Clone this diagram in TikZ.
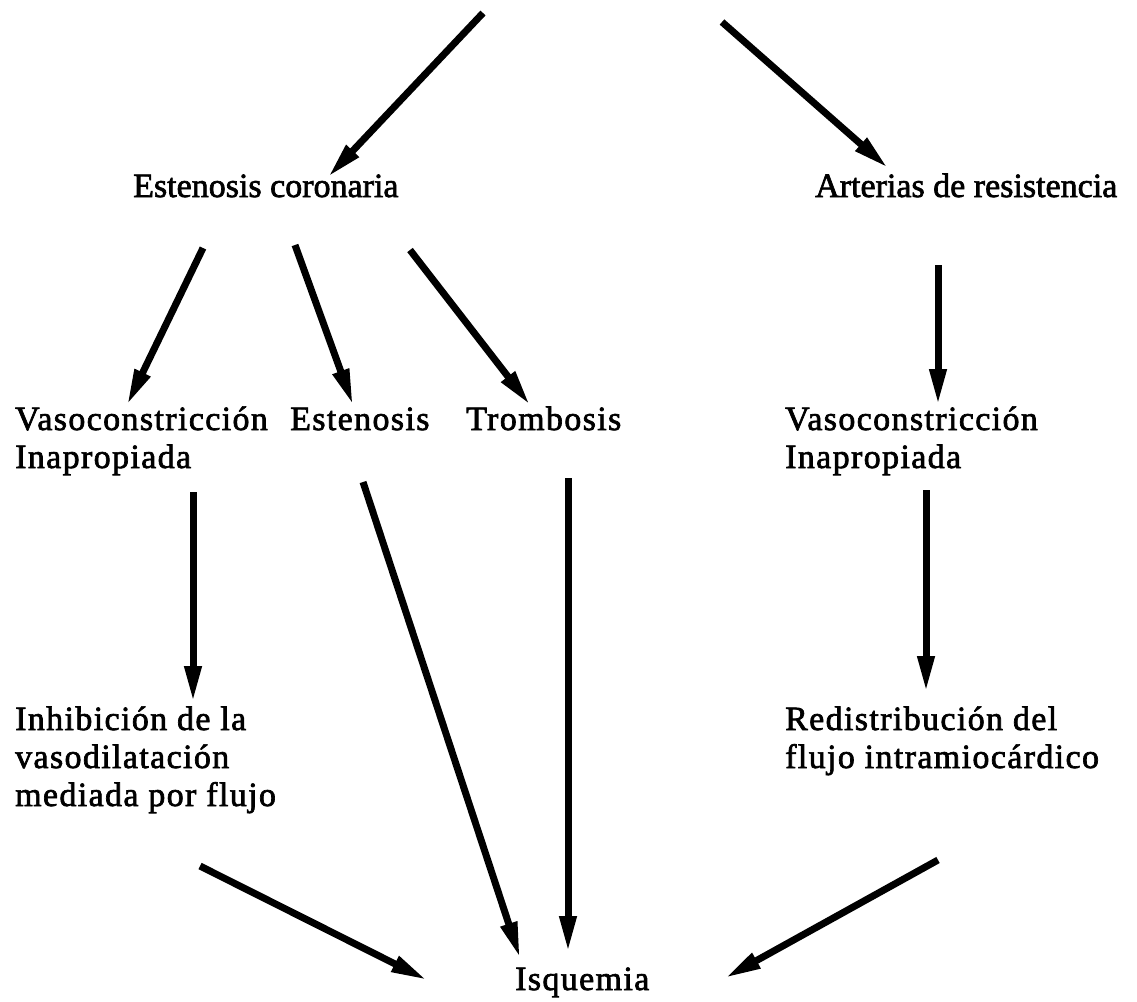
\documentclass[tikz,border=0pt]{standalone}
\usepackage{fontspec}
\setmainfont{Liberation Serif}
\newfontfamily\inkfont{Liberation Serif}[FakeBold=2]
\newfontfamily\inkwide{Liberation Serif}[FakeBold=2, LetterSpace=4]
\usetikzlibrary{arrows.meta}

\tikzset{
  lbl/.style={anchor=base west, inner sep=0pt, align=left,
    font=\inkfont\fontsize{34}{38}\selectfont},
  lblwide/.style={lbl, font=\inkwide\fontsize{34}{38}\selectfont},
  arr/.style={line width=7pt, -{Triangle[length=36pt,width=16pt]}},
}

\begin{document}
\begin{tikzpicture}[x=1pt, y=-1pt]
  \useasboundingbox (0,0) rectangle (1137,1001);

  \coordinate (srcL) at (483, 13);
  \coordinate (srcR) at (722, 22);

  % multi-line labels sit on their last line
  \node[lbl] (estc) at (133, 197) {Estenosis coronaria};
  \node[lbl] (arts) at (815, 197) {Arterias de resistencia};
  \node[lblwide] (vasoL) at (15, 468) {Vasoconstricción\\Inapropiada};
  \node[lblwide] (esten) at (290, 430) {Estenosis};
  \node[lblwide] (tromb) at (466, 430) {Trombosis};
  \node[lblwide] (vasoR) at (785, 468) {Vasoconstricción\\Inapropiada};
  \node[lblwide] (inhib) at (15, 806) {Inhibición de la\\vasodilatación\\mediada por flujo};
  \node[lblwide] (redis) at (785, 768) {Redistribución del\\flujo intramiocárdico};
  \node[lblwide] (isq) at (515, 990) {Isquemia};

  \draw[arr] (srcL) -- ([shift={(195,-20)}]estc.base west);
  \draw[arr] (srcR) -- ([shift={(73,-29)}]arts.base west);

  \draw[arr] ([shift={(70,51)}]estc.base west) -- ([shift={(112,-63)}]vasoL.base west);
  \draw[arr] ([shift={(162,48)}]estc.base west) -- ([shift={(63,-25)}]esten.base west);
  \draw[arr] ([shift={(277,53)}]estc.base west) -- ([shift={(64,-25)}]tromb.base west);
  \draw[arr] ([shift={(123,68)}]arts.base west) -- ([shift={(153,-63)}]vasoR.base west);

  \draw[arr] ([shift={(178,24)}]vasoL.base west) -- ([shift={(178,-104)}]inhib.base west);
  \draw[arr] ([shift={(141,22)}]vasoR.base west) -- ([shift={(141,-76)}]redis.base west);

  \draw[arr] ([shift={(73,52)}]esten.base west) -- ([shift={(5,-32)}]isq.base west);
  \draw[arr] ([shift={(102,48)}]tromb.base west) -- ([shift={(53,-38)}]isq.base west);
  \draw[arr] ([shift={(185,60)}]inhib.base west) -- ([shift={(-88,-10)}]isq.base west);
  \draw[arr] ([shift={(153,92)}]redis.base west) -- ([shift={(210,-12)}]isq.base west);
\end{tikzpicture}
\end{document}
